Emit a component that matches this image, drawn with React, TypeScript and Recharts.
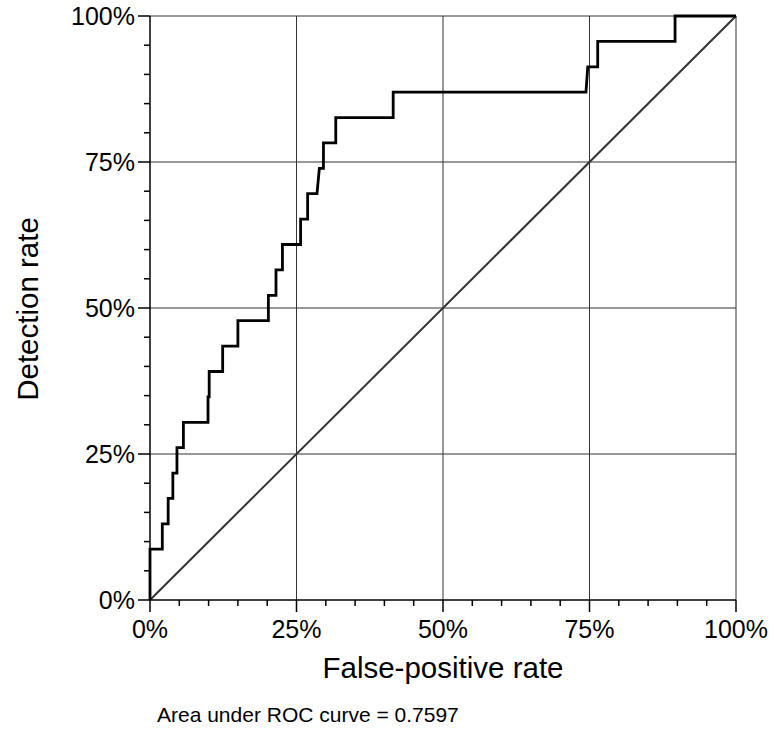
import { LineChart, Line, XAxis, YAxis, ReferenceLine } from 'recharts';

// ROC curve corner points (false-positive %, detection %)
const fprPct = [
  0, 0, 2.1, 2.1, 3.1, 3.1, 3.9, 3.9, 4.6, 4.6, 5.7, 5.7, 9.9, 9.9, 10.1, 10.1,
  12.4, 12.4, 15.0, 15.0, 20.2, 20.2, 21.5, 21.5, 22.6, 22.6, 25.7, 25.7, 26.9, 26.9,
  28.5, 28.9, 29.6, 29.6, 31.7, 31.7, 41.5, 41.5, 74.4, 74.7, 76.4, 76.4, 89.6, 89.6, 100,
];
const detectionPct = [
  0, 8.70, 8.70, 13.04, 13.04, 17.39, 17.39, 21.74, 21.74, 26.09, 26.09, 30.43, 30.43, 34.78, 34.78, 39.13,
  39.13, 43.48, 43.48, 47.83, 47.83, 52.17, 52.17, 56.52, 56.52, 60.87, 60.87, 65.22, 65.22, 69.57,
  69.57, 73.91, 73.91, 78.26, 78.26, 82.61, 82.61, 86.96, 86.96, 91.30, 91.30, 95.65, 95.65, 100, 100,
];

// chance line
const chanceFpr = [0, 100];
const chanceDetection = [0, 100];

const axisTicks = [0, 5, 10, 15, 20, 25, 30, 35, 40, 45, 50, 55, 60, 65, 70, 75, 80, 85, 90, 95, 100];
const majorTicks = [0, 25, 50, 75, 100];
const gridValues = [25, 50, 75, 100];

const xTitle = 'False-positive rate';
const yTitle = 'Detection rate';
const aucText = 'Area under ROC curve = 0.7597';

const rocData = fprPct.map((fpr, i) => ({ fpr, rate: detectionPct[i] }));
const chanceData = chanceFpr.map((fpr, i) => ({ fpr, rate: chanceDetection[i] }));

const FONT = '"Liberation Sans", Arial, Helvetica, sans-serif';

function XTick(props: any) {
  const { x, y, payload } = props;
  const major = majorTicks.includes(payload.value);
  return (
    <g>
      <line x1={x} x2={x} y1={y} y2={y + (major ? 12 : 6)} stroke="#000" strokeWidth={1.5} />
      {major && (
        <text x={x} y={y + 20} dy="0.71em" textAnchor="middle" fontSize={25} fill="#000" fontFamily={FONT}>
          {payload.value}%
        </text>
      )}
    </g>
  );
}

function YTick(props: any) {
  const { x, y, payload } = props;
  const major = majorTicks.includes(payload.value);
  return (
    <g>
      <line x1={x - (major ? 12 : 6)} x2={x} y1={y} y2={y} stroke="#000" strokeWidth={1.5} />
      {major && (
        <text x={x - 15} y={y} dy="0.355em" textAnchor="end" fontSize={25} fill="#000" fontFamily={FONT}>
          {payload.value}%
        </text>
      )}
    </g>
  );
}

function XTitle(props: any) {
  const vb = props.viewBox || { x: 150, y: 600, width: 586, height: 129 };
  return (
    <g fontFamily={FONT} fill="#000">
      <text x={vb.x + vb.width / 2} y={vb.y + 78} textAnchor="middle" fontSize={29.5}>{xTitle}</text>
      <text x={vb.x + 7} y={vb.y + 122} textAnchor="start" fontSize={21}>{aucText}</text>
    </g>
  );
}

function YTitle(props: any) {
  const vb = props.viewBox || { x: 0, y: 16, width: 150, height: 584 };
  const cx = vb.x + 38;
  const cy = vb.y + vb.height / 2 + 1;
  return (
    <text x={cx} y={cy} transform={`rotate(-90 ${cx} ${cy})`} textAnchor="middle" fontSize={29.5} fill="#000" fontFamily={FONT}>
      {yTitle}
    </text>
  );
}

export default function App() {
  return (
    <div style={{ position: 'absolute', left: 0, top: 0, background: '#fff' }}>
      <LineChart width={776} height={729} margin={{ top: 16, right: 40, bottom: 0, left: 0 }}>
        <XAxis
          dataKey="fpr"
          type="number"
          domain={[0, 100]}
          ticks={axisTicks}
          interval={0}
          height={129}
          tickSize={0}
          tickMargin={0}
          tickLine={false}
          axisLine={{ stroke: '#000', strokeWidth: 1.5 }}
          tick={(p: any) => <XTick {...p} />}
          label={{ content: (p: any) => <XTitle {...p} /> }}
        />
        <YAxis
          dataKey="rate"
          type="number"
          domain={[0, 100]}
          ticks={axisTicks}
          interval={0}
          width={150}
          tickSize={0}
          tickMargin={0}
          tickLine={false}
          axisLine={{ stroke: '#000', strokeWidth: 1.5 }}
          tick={(p: any) => <YTick {...p} />}
          label={{ content: (p: any) => <YTitle {...p} /> }}
        />
        {gridValues.map((v) => (
          <ReferenceLine key={`gx${v}`} x={v} stroke="#333" strokeWidth={1} />
        ))}
        {gridValues.map((v) => (
          <ReferenceLine key={`gy${v}`} y={v} stroke="#333" strokeWidth={1} />
        ))}
        <Line
          data={chanceData}
          dataKey="rate"
          type="linear"
          stroke="#333"
          strokeWidth={2}
          dot={false}
          activeDot={false}
          isAnimationActive={false}
        />
        <Line
          data={rocData}
          dataKey="rate"
          type="linear"
          stroke="#000"
          strokeWidth={2.8}
          strokeLinejoin="miter"
          dot={false}
          activeDot={false}
          isAnimationActive={false}
        />
      </LineChart>
    </div>
  );
}
